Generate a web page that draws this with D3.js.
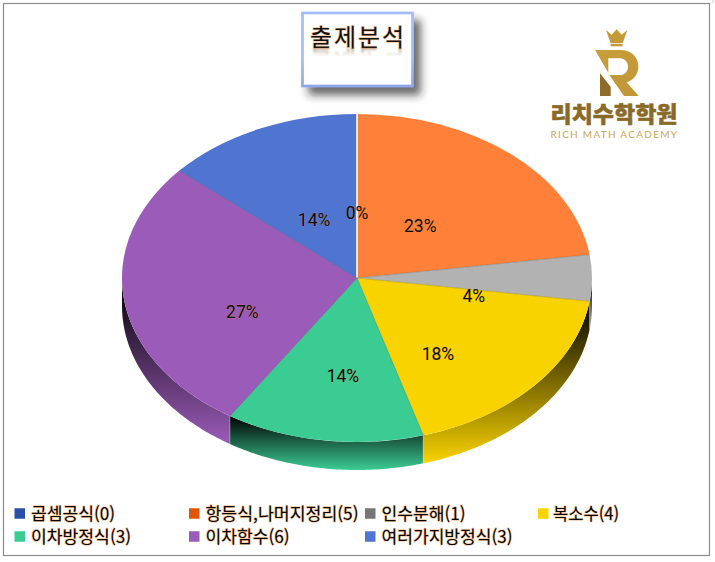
<!DOCTYPE html>
<html lang="ko"><head><meta charset="utf-8">
<script src="https://cdn.jsdelivr.net/npm/d3@7/dist/d3.min.js"></script>
<style>
html,body{margin:0;padding:0;background:#fff;overflow:hidden}
svg{display:block}
text{font-family:"Noto Sans CJK KR","Noto Sans",sans-serif}
.halo{paint-order:stroke;stroke:#f4994a;stroke-opacity:.5;stroke-width:1.5px;stroke-linejoin:round}
</style></head><body>
<svg id="c" width="715" height="562"></svg>
<script>
const categories=["곱셈공식","항등식,나머지정리","인수분해","복소수","이차방정식","이차함수","여러가지방정식"];
const counts=[0,5,1,4,3,6,3];
const pctLabels=["0%","23%","4%","18%","14%","27%","14%"];
const sliceColors=["#2f55a8","#ff8038","#b2b2b2","#f8d300","#3bcc94","#9b5bb8","#5075d0"];
const legendColors=["#2a4fa6","#e05500","#767676","#f8d300","#3bcc94","#9b5bb8","#5075d0"];
const titleText="출제분석";

const cx=357,cy=278,rx=235,ry=164,depth=28;
const svg=d3.select("#c");
const defs=svg.append("defs");

// frame
svg.append("rect").attr("x",3.5).attr("y",3.5).attr("width",706).attr("height",552)
  .attr("fill","#fff").attr("stroke","#8c8c8c").attr("stroke-width",1.2);
svg.append("line").attr("x1",713).attr("x2",713).attr("y1",0).attr("y2",3).attr("stroke","#ccc");

// filters
const shadowF=defs.append("filter").attr("id","boxShadow").attr("x","-30%").attr("y","-30%").attr("width","170%").attr("height","170%");
shadowF.append("feDropShadow").attr("dx",7).attr("dy",8).attr("stdDeviation",4).attr("flood-color","#222").attr("flood-opacity",.68);
const softF=defs.append("filter").attr("id","soft").attr("x","-10%").attr("y","-30%").attr("width","120%").attr("height","160%");
softF.append("feGaussianBlur").attr("stdDeviation",.8);
const glowF=defs.append("filter").attr("id","glow").attr("x","-10%").attr("y","-10%").attr("width","120%").attr("height","120%");
glowF.append("feGaussianBlur").attr("stdDeviation",.7);
const boxGrad=defs.append("linearGradient").attr("id","boxStroke").attr("x1",0).attr("y1",0).attr("x2",0).attr("y2",1);
boxGrad.append("stop").attr("offset",0).attr("stop-color","#a4bdfb");
boxGrad.append("stop").attr("offset",.6).attr("stop-color","#a4bdfb");
boxGrad.append("stop").attr("offset",1).attr("stop-color","#6f86cc");
const reflGrad=defs.append("linearGradient").attr("id","reflFade").attr("x1",0).attr("y1",0).attr("x2",0).attr("y2",1);
reflGrad.append("stop").attr("offset",0).attr("stop-color","#fff").attr("stop-opacity",.5);
reflGrad.append("stop").attr("offset",1).attr("stop-color","#fff").attr("stop-opacity",0);
defs.append("mask").attr("id","reflMask").attr("maskUnits","userSpaceOnUse")
  .attr("x",300).attr("y",44).attr("width",120).attr("height",16)
  .append("rect").attr("x",300).attr("y",47.5).attr("width",120).attr("height",9).attr("fill","url(#reflFade)");

// title box
svg.append("rect").attr("x",302.5).attr("y",13).attr("width",110).attr("height",73)
  .attr("fill","#fff").attr("stroke","url(#boxStroke)").attr("stroke-width",2.4).attr("filter","url(#boxShadow)");
svg.append("rect").attr("x",302.5).attr("y",13).attr("width",110).attr("height",73)
  .attr("fill","none").attr("stroke","#a4bdfb").attr("stroke-opacity",.6).attr("stroke-width",2.6).attr("filter","url(#glow)");
svg.append("text").attr("id","titleT").attr("class","halo").attr("x",357).attr("y",45.5).attr("text-anchor","middle")
  .attr("font-size",24).attr("textLength",94).attr("lengthAdjust","spacing").attr("fill","#111").text(titleText);
// mirrored reflection of the same text element
svg.append("g").attr("mask","url(#reflMask)").append("g").attr("filter","url(#soft)")
  .append("use").attr("href","#titleT").attr("transform","translate(0,95) scale(1,-1)");

// logo
const logo=svg.append("g").attr("transform","translate(540,20) scale(.3333)");
const goldGrad=defs.append("linearGradient").attr("id","gold").attr("x1",0).attr("y1",0).attr("x2",1).attr("y2",1);
goldGrad.append("stop").attr("offset",0).attr("stop-color","#c89f3c");
goldGrad.append("stop").attr("offset",1).attr("stop-color","#c09536");
logo.append("path").attr("fill","#c49a3a").attr("d","M198,30 L215,44 L230,28 L245,44 L262,30 L248,70 H212 Z");
logo.append("path").attr("fill","#c49a3a").attr("d","M212,72 H248 V79 H212 Z");
logo.append("path").attr("fill","url(#gold)").attr("d","M165,90 H240 C275,90 295,112 295,140 C295,163 280,180 260,187 L296,228 H252 L208,165 H240 C254,165 264,154 264,140 C264,126 254,115 240,115 H205 V158 Z");
logo.append("path").attr("fill","#8d6c2a").attr("d","M180,160 L212,200 V228 H180 Z");
svg.append("text").attr("x",550.5).attr("y",122).attr("font-size",22).attr("font-weight",900)
  .attr("stroke","#8a6a28").attr("stroke-width",.5)
  .attr("textLength",127).attr("lengthAdjust","spacingAndGlyphs").attr("fill","#8a6a28").text("리치수학학원");
svg.append("text").attr("x",550.5).attr("y",137.5).attr("font-size",10).style("font-family","Lato,sans-serif")
  .attr("textLength",126.5).attr("lengthAdjust","spacing").attr("fill","#c6a655").text("RICH MATH ACADEMY");

// pie
const arcs=d3.pie().value(d=>d).sort(null)(counts);
const pt=(a,dy=0)=>[cx+rx*Math.sin(a),cy-ry*Math.cos(a)+dy];
const lineGen=d3.line();
const wallG=svg.append("g"), topG=svg.append("g");
const frontRange=d=>{
  const a0=Math.max(d.startAngle,Math.PI/2), a1=Math.min(d.endAngle,Math.PI*1.5);
  return a1>a0?[a0,a1]:null;
};
arcs.forEach((d,i)=>{
  const range=frontRange(d); if(!range) return;
  const id="wallGrad"+i;
  const g=defs.append("linearGradient").attr("id",id).attr("x1",0).attr("y1",0).attr("x2",0).attr("y2",1);
  g.append("stop").attr("offset",0).attr("stop-color","#000");
  g.append("stop").attr("offset",1).attr("stop-color",sliceColors[i]);
  const steps=d3.range(0,61).map(k=>range[0]+(range[1]-range[0])*k/60);
  const pts=steps.map(a=>pt(a)).concat(steps.slice().reverse().map(a=>pt(a,depth)));
  wallG.append("path").attr("d",lineGen(pts)+"Z").attr("fill","url(#"+id+")");
  wallG.append("line").datum(pt(range[0])).attr("x1",p=>p[0]).attr("x2",p=>p[0]).attr("y1",p=>p[1]).attr("y2",p=>p[1]+depth)
    .attr("stroke","#fff").attr("stroke-opacity",range[0]>Math.PI/2?.45:0).attr("stroke-width",.7);
});
const arcGen=d3.arc().innerRadius(0).outerRadius(rx);
const plate=topG.append("g").attr("transform",`translate(${cx},${cy}) scale(1,${ry/rx})`);
plate.selectAll("path").data(arcs).join("path")
  .attr("d",arcGen).attr("fill",(d,i)=>sliceColors[i]).attr("stroke","none");
// spokes between slices
topG.selectAll("line").data(arcs).join("line")
  .attr("x1",cx).attr("y1",cy)
  .attr("x2",d=>pt(d.startAngle)[0]).attr("y2",d=>pt(d.startAngle)[1])
  .attr("stroke",(d,i)=>d.startAngle===0?"#fff":d3.color(sliceColors[i]).darker(1.3))
  .attr("stroke-opacity",d=>d.startAngle===0?1:.65)
  .attr("stroke-width",d=>d.startAngle===0?1.1:.7);

// percentage labels
const nudgeX=[0,-6,11,1,1,-10,1], nudgeY=[9,4,18,28,25,23.5,9];
svg.selectAll(".pct").data(arcs).join("text").attr("class","pct halo")
  .style("stroke-width","0.8px").style("stroke-opacity",.4)
  .attr("x",(d,i)=>cx+rx*.45*Math.sin((d.startAngle+d.endAngle)/2)+nudgeX[i])
  .attr("y",(d,i)=>cy-ry*.45*Math.cos((d.startAngle+d.endAngle)/2)+nudgeY[i])
  .attr("text-anchor","middle").attr("dominant-baseline","central")
  .attr("font-size",17.5).attr("fill","#0c0c0c")
  .style("font-family","Roboto,sans-serif").style("font-weight",400)
  .text((d,i)=>pctLabels[i]);

// legend
const legendCols=[14.5,189,365,538], legendRows=[513.5,536.5], perRow=4;
const textWidths=[84,153,84,66,100,84,131];
const lgGroup=svg.selectAll(".lg").data(categories).join("g").attr("class","lg")
  .attr("transform",(d,i)=>`translate(${legendCols[i%perRow]},${legendRows[Math.floor(i/perRow)]})`);
lgGroup.append("rect").attr("x",0).attr("y",-5.25).attr("width",10.5).attr("height",10.5)
  .attr("fill",(d,i)=>legendColors[i]);
lgGroup.append("text").attr("class","halo").attr("x",(d,i)=>i%perRow===3?15:16.5).attr("y",-1.5)
  .attr("dominant-baseline","central").attr("font-size",17).attr("fill","#000")
  .attr("textLength",(d,i)=>textWidths[i]).attr("lengthAdjust","spacingAndGlyphs")
  .text((d,i)=>`${d}(${counts[i]})`);
</script>
</body></html>
